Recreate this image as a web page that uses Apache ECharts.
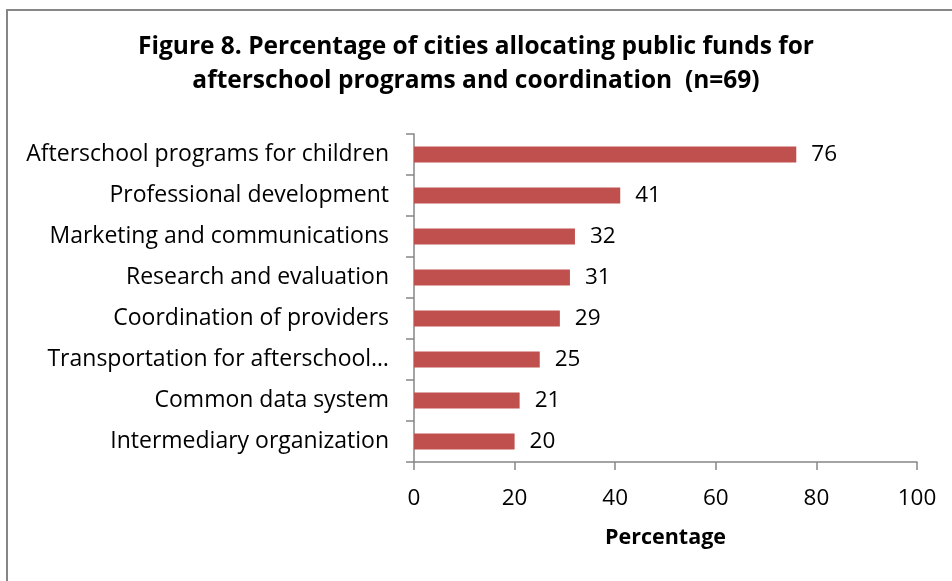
<!DOCTYPE html>
<html>
<head>
    <meta charset="utf-8">
    <title>Figure 8</title>
    <script src="https://cdn.jsdelivr.net/npm/echarts@6/dist/echarts.min.js"></script>
    <style>
        html, body { margin: 0; padding: 0; background: #fff; }
        #main { width: 952px; height: 581px; }
    </style>
</head>
<body>
<div id="main"></div>
<script type="text/javascript">
    // data
    var categories = [
        'Afterschool programs for children',
        'Professional development',
        'Marketing and communications',
        'Research and evaluation',
        'Coordination of providers',
        'Transportation for afterschool\u2026',
        'Common data system',
        'Intermediary organization'
    ];
    var values = [76, 41, 32, 31, 29, 25, 21, 20];
    var xTicks = [0, 20, 40, 60, 80, 100];

    var font = 'Open Sans';
    var axisGray = '#868686';

    var chart = echarts.init(document.getElementById('main'));
    var option = {
        backgroundColor: '#fff',
        animation: false,
        title: {
            text: 'Figure 8. Percentage of cities allocating public funds for\nafterschool programs and coordination  (n=69)',
            left: 'center',
            top: 25,
            textStyle: {
                fontFamily: font,
                fontWeight: 'bold',
                fontSize: 24.5,
                lineHeight: 34,
                color: '#000'
            }
        },
        graphic: [{
            type: 'rect',
            shape: { x: 7, y: 10, width: 1000, height: 700 },
            style: { fill: 'none', stroke: axisGray, lineWidth: 2 },
            silent: true
        }],
        grid: {
            left: 414,
            right: 35,
            top: 134,
            bottom: 119,
            containLabel: false
        },
        xAxis: {
            type: 'value',
            min: xTicks[0],
            max: xTicks[xTicks.length - 1],
            interval: 20,
            name: 'Percentage',
            nameLocation: 'middle',
            nameGap: 65,
            nameTextStyle: {
                fontFamily: font,
                fontWeight: 'bold',
                fontSize: 21.5,
                color: '#000'
            },
            axisLine: { show: true, lineStyle: { color: axisGray, width: 1.5 } },
            axisTick: { show: true, length: 8, lineStyle: { color: axisGray, width: 1.5 } },
            axisLabel: {
                margin: 25,
                fontFamily: font,
                fontSize: 22.5,
                color: '#000'
            },
            splitLine: { show: false }
        },
        yAxis: {
            type: 'category',
            data: categories,
            inverse: true,
            axisLine: { show: true, lineStyle: { color: axisGray, width: 1.5 } },
            axisTick: { show: true, length: 8, lineStyle: { color: axisGray, width: 1.5 } },
            axisLabel: {
                margin: 25,
                fontFamily: font,
                fontSize: 23,
                color: '#000'
            }
        },
        series: [{
            type: 'bar',
            data: values,
            barWidth: 16,
            itemStyle: { color: '#C0504D' },
            label: {
                show: true,
                position: 'right',
                distance: 15,
                fontFamily: font,
                fontSize: 22.5,
                color: '#000'
            }
        }]
    };
    chart.setOption(option);
</script>
</body>
</html>
